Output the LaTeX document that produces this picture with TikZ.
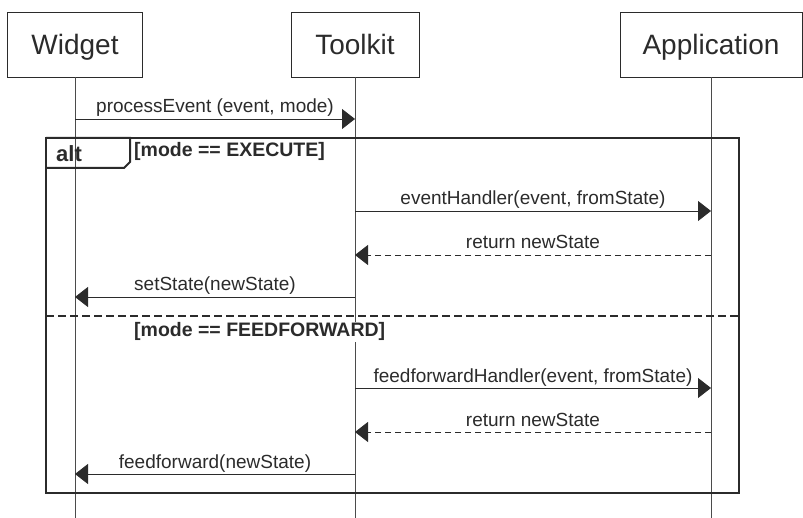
\documentclass[tikz,border=0pt]{standalone}
\usepackage{fontspec}
\setmainfont{Liberation Sans}
\usetikzlibrary{arrows.meta}

\definecolor{ink}{HTML}{2B2B2B}

\tikzset{
  actor/.style={draw=ink, line width=0.9pt, minimum height=65pt, inner sep=0pt,
    text height=23pt, text depth=2pt, text=ink, font=\fontsize{28}{30}\selectfont},
  lifeline/.style={draw=ink!85, line width=0.8pt},
  msg/.style={draw=ink, line width=0.8pt, -{Triangle[length=13pt,width=20pt]}},
  reply/.style={msg, dash pattern=on 6pt off 4pt},
  lbl/.style={anchor=base, yshift=6pt, inner sep=0pt, text=ink,
    font=\fontsize{19}{21}\selectfont},
  frame/.style={draw=ink, line width=2.2pt},
  guard/.style={anchor=base west, inner sep=1pt, fill=white, text=ink,
    font=\bfseries\fontsize{19.5}{21}\selectfont}
}

\begin{document}
\begin{tikzpicture}[x=1pt, y=-1pt]
  \useasboundingbox (0,0) rectangle (803,518);

  % participants
  \node[actor, minimum width=135pt] (widget) at (75,44.5) {Widget};
  \node[actor, minimum width=128pt] (toolkit) at (355,44.5) {Toolkit};
  \node[actor, minimum width=182pt] (application) at (711,44.5) {Application};

  \coordinate (widget-end) at (75,518);
  \coordinate (toolkit-end) at (355,518);
  \coordinate (application-end) at (711,518);
  \draw[lifeline] (widget) -- (widget-end);
  \draw[lifeline] (toolkit) -- (toolkit-end);
  \draw[lifeline] (application) -- (application-end);

  % message rows
  \coordinate (r1) at (0,119);
  \coordinate (r2) at (0,211);
  \coordinate (r3) at (0,255);
  \coordinate (r4) at (0,297);
  \coordinate (r5) at (0,388);
  \coordinate (r6) at (0,432);
  \coordinate (r7) at (0,474);

  \draw[msg] (widget |- r1) -- (toolkit |- r1)
    node[midway, lbl] {processEvent (event, mode)};

  % alt fragment
  \coordinate (alt-nw) at (46,138);
  \coordinate (alt-se) at (739,493);
  \coordinate (alt-sep-w) at (46,316);
  \coordinate (alt-sep-e) at (739,316);
  \draw[frame] (alt-nw) rectangle (alt-se);
  \draw[frame, line width=2pt] (alt-nw) -- ++(84,0) -- ++(0,24) -- ++(-6,6) -- ++(-78,0);
  \node[font=\bfseries\fontsize{22}{24}\selectfont, text=ink, inner sep=0pt] (alt) at (69,154) {alt};
  \node[guard] (g-exec) at (133,157) {[mode == EXECUTE]};
  \draw[frame, line width=2pt, dash pattern=on 8pt off 4pt] (alt-sep-w) -- (alt-sep-e);
  \node[guard] (g-ff) at (133,337) {[mode == FEEDFORWARD]};

  \draw[msg] (toolkit |- r2) -- (application |- r2)
    node[midway, lbl] {eventHandler(event, fromState)};
  \draw[reply] (application |- r3) -- (toolkit |- r3)
    node[midway, lbl] {return newState};
  \draw[msg] (toolkit |- r4) -- (widget |- r4)
    node[midway, lbl] {setState(newState)};

  \draw[msg] (toolkit |- r5) -- (application |- r5)
    node[midway, lbl] {feedforwardHandler(event, fromState)};
  \draw[reply] (application |- r6) -- (toolkit |- r6)
    node[midway, lbl] {return newState};
  \draw[msg] (toolkit |- r7) -- (widget |- r7)
    node[midway, lbl] {feedforward(newState)};
\end{tikzpicture}
\end{document}
